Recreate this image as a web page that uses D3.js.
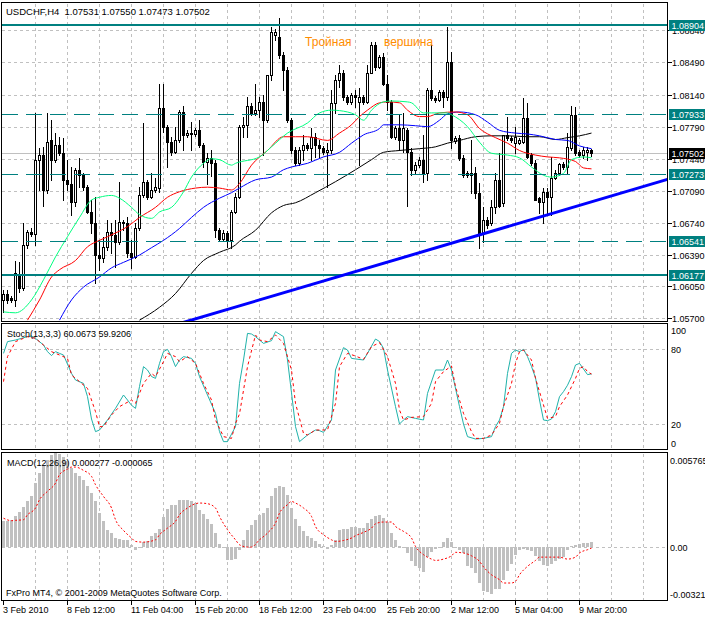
<!DOCTYPE html>
<html>
<head>
<meta charset="UTF-8">
<title>USDCHF,H4</title>
<script src="https://d3js.org/d3.v7.min.js"></script>
<style>
  body { margin: 0; background: #fff; }
  svg text { font-family: "Liberation Sans", Arial, sans-serif; font-size: 9px; fill: #000; }
  .grid { stroke: #c0c0c0; stroke-width: 1; stroke-dasharray: 3,3; shape-rendering: crispEdges; }
  .frame { fill: none; stroke: #000; stroke-width: 1; shape-rendering: crispEdges; }
  .tick { stroke: #000; stroke-width: 1; shape-rendering: crispEdges; }
  .header { white-space: pre; }
</style>
</head>
<body>
<script>

// ---- candles, H4, one per bar (bar 0 = left edge) ----
var open = [
1.0590,1.0597,1.0592,1.0590,1.0618,1.0603,1.0650,1.0664,1.0662,1.0743,
1.0748,1.0710,1.0764,1.0743,1.0759,1.0750,1.0721,1.0717,1.0697,1.0732,
1.0726,1.0713,1.0686,1.0674,1.0639,1.0636,1.0648,1.0664,1.0661,1.0653,
1.0675,1.0674,1.0641,1.0637,1.0668,1.0704,1.0719,1.0702,1.0710,1.0712,
1.0799,1.0779,1.0762,1.0751,1.0764,1.0795,1.0770,1.0772,1.0771,1.0775,
1.0759,1.0740,1.0745,1.0739,1.0666,1.0657,1.0663,1.0655,1.0686,1.0702,
1.0779,1.0781,1.0802,1.0794,1.0797,1.0806,1.0786,1.0835,1.0879,1.0877,
1.0857,1.0841,1.0786,1.0753,1.0739,1.0753,1.0759,1.0756,1.0768,1.0759,
1.0756,1.0751,1.0753,1.0805,1.0830,1.0838,1.0811,1.0806,1.0813,1.0806,
1.0811,1.0806,1.0838,1.0868,1.0844,1.0855,1.0826,1.0806,1.0768,1.0777,
1.0764,1.0775,1.0751,1.0732,1.0737,1.0743,1.0728,1.0819,1.0810,1.0808,
1.0817,1.0811,1.0849,1.0763,1.0767,1.0745,1.0728,1.0726,1.0729,1.0707,
1.0663,1.0677,1.0674,1.0691,1.0721,1.0696,1.0770,1.0767,1.0761,1.0761,
1.0762,1.0788,1.0748,1.0739,1.0701,1.0697,1.0708,1.0702,1.0723,1.0729,
1.0738,1.0735,1.0756,1.0792,1.0751,1.0748,1.0751,1.07531];

var high = [
1.0601,1.0601,1.0594,1.0633,1.0631,1.0674,1.0666,1.0668,1.0794,1.0756,
1.0757,1.0794,1.0786,1.0772,1.0768,1.0767,1.0743,1.0735,1.0734,1.0745,
1.0729,1.0715,1.0699,1.0702,1.0655,1.0659,1.0677,1.0674,1.0677,1.0719,
1.0677,1.0680,1.0655,1.0674,1.0713,1.0783,1.0721,1.0728,1.0723,1.0826,
1.0826,1.0781,1.0768,1.0779,1.0797,1.0802,1.0775,1.0784,1.0777,1.0786,
1.0761,1.0750,1.0753,1.0743,1.0668,1.0666,1.0665,1.0688,1.0707,1.0781,
1.0789,1.0811,1.0805,1.0826,1.0811,1.0813,1.0835,1.0888,1.0886,1.0897,
1.0860,1.0844,1.0788,1.0757,1.0757,1.0770,1.0761,1.0777,1.0772,1.0764,
1.0758,1.0761,1.0819,1.0835,1.0846,1.0841,1.0813,1.0816,1.0819,1.0821,
1.0813,1.0846,1.0871,1.0871,1.0857,1.0859,1.0835,1.0808,1.0780,1.0792,
1.0794,1.0777,1.0756,1.0740,1.0746,1.0770,1.0821,1.0868,1.0812,1.0819,
1.0819,1.0888,1.0860,1.0769,1.0770,1.0748,1.0731,1.0764,1.0735,1.0718,
1.0691,1.0680,1.0699,1.0728,1.0750,1.0770,1.0790,1.0769,1.0779,1.0767,
1.0810,1.0805,1.0750,1.0743,1.0702,1.0712,1.0712,1.0746,1.0732,1.0739,
1.0740,1.0772,1.0802,1.0800,1.0753,1.0757,1.0757,1.07550];

var low = [
1.0577,1.0587,1.0588,1.0583,1.0599,1.0601,1.0647,1.0660,1.0650,1.0710,
1.0693,1.0707,1.0721,1.0740,1.0748,1.0699,1.0710,1.0683,1.0693,1.0713,
1.0710,1.0685,1.0663,1.0609,1.0623,1.0631,1.0644,1.0641,1.0626,1.0651,
1.0666,1.0637,1.0625,1.0636,1.0666,1.0702,1.0700,1.0701,1.0708,1.0708,
1.0773,1.0735,1.0748,1.0750,1.0762,1.0753,1.0768,1.0753,1.0769,1.0757,
1.0735,1.0717,1.0725,1.0659,1.0655,1.0655,1.0648,1.0647,1.0685,1.0701,
1.0768,1.0768,1.0792,1.0792,1.0790,1.0748,1.0784,1.0830,1.0873,1.0854,
1.0819,1.0784,1.0750,1.0737,1.0737,1.0743,1.0753,1.0743,1.0746,1.0746,
1.0749,1.0713,1.0750,1.0794,1.0822,1.0808,1.0804,1.0804,1.0800,1.0737,
1.0804,1.0805,1.0837,1.0841,1.0843,1.0824,1.0797,1.0767,1.0765,1.0753,
1.0751,1.0693,1.0726,1.0729,1.0735,1.0719,1.0721,1.0808,1.0806,1.0807,
1.0800,1.0808,1.0756,1.0761,1.0743,1.0724,1.0724,1.0707,1.0701,1.0647,
1.0653,1.0669,1.0672,1.0685,1.0691,1.0693,1.0764,1.0762,1.0750,1.0760,
1.0761,1.0745,1.0737,1.0699,1.0685,1.0674,1.0685,1.0683,1.0722,1.0726,
1.0733,1.0728,1.0753,1.0748,1.0746,1.0745,1.0743,1.07473];

var close = [
1.0597,1.0590,1.0590,1.0619,1.0603,1.0650,1.0664,1.0662,1.0743,1.0748,
1.0710,1.0762,1.0743,1.0759,1.0750,1.0721,1.0717,1.0697,1.0732,1.0726,
1.0713,1.0686,1.0674,1.0639,1.0636,1.0648,1.0664,1.0661,1.0653,1.0675,
1.0674,1.0641,1.0637,1.0668,1.0704,1.0719,1.0702,1.0710,1.0713,1.0799,
1.0779,1.0762,1.0751,1.0764,1.0795,1.0770,1.0772,1.0771,1.0775,1.0759,
1.0740,1.0745,1.0739,1.0666,1.0657,1.0663,1.0655,1.0686,1.0702,1.0779,
1.0781,1.0802,1.0794,1.0797,1.0806,1.0786,1.0835,1.0882,1.0882,1.0857,
1.0841,1.0786,1.0753,1.0739,1.0753,1.0759,1.0756,1.0768,1.0759,1.0756,
1.0751,1.0753,1.0805,1.0830,1.0838,1.0811,1.0806,1.0813,1.0811,1.0811,
1.0806,1.0838,1.0868,1.0844,1.0855,1.0826,1.0806,1.0768,1.0777,1.0764,
1.0777,1.0751,1.0732,1.0737,1.0743,1.0728,1.0819,1.0810,1.0808,1.0817,
1.0811,1.0849,1.0764,1.0767,1.0745,1.0726,1.0726,1.0729,1.0707,1.0663,
1.0677,1.0672,1.0691,1.0721,1.0693,1.0770,1.0767,1.0764,1.0768,1.0764,
1.0788,1.0746,1.0739,1.0699,1.0697,1.0708,1.0702,1.0723,1.0729,1.0738,
1.0735,1.0757,1.0792,1.0750,1.0748,1.0753,1.0753,1.07502];

// ---- moving averages: [bar, price] ----
var maGreen = [[0,1.0577],[3,1.0576],[7,1.0590],[10,1.0612],[13,1.0637],[16,1.0659],[19,1.0680],[22,1.0699],[24,1.0702],[27,1.0704],[29,1.0701],[32,1.0691],[34,1.0683],[37,1.0679],[39,1.0686],[42,1.0691],[45,1.0708],[47,1.0724],[50,1.0739],[52,1.0744],[54,1.0743],[57,1.0737],[58,1.0739],[64,1.0746],[67,1.0757],[71,1.0772],[76,1.0783],[79,1.0794],[82,1.0797],[86,1.0795],[88,1.0792],[90,1.0786],[92,1.0797],[95,1.0806],[97,1.0807],[101,1.0806],[102,1.0805],[105,1.0794],[107,1.0794],[111,1.0794],[112,1.0792],[116,1.0779],[119,1.0762],[122,1.0750],[126,1.0748],[129,1.0745],[132,1.0735],[135,1.0726],[137,1.0724],[140,1.0728],[142,1.0743],[145,1.0746],[147,1.0745]];
var maRed = [[6,1.0568],[9,1.0590],[12,1.0615],[14,1.0623],[18,1.0633],[21,1.0648],[24,1.0655],[28,1.0663],[31,1.0670],[34,1.0680],[38,1.0691],[41,1.0702],[44,1.0708],[48,1.0712],[51,1.0713],[54,1.0712],[57,1.0710],[59,1.0717],[62,1.0737],[66,1.0753],[70,1.0768],[73,1.0768],[76,1.0768],[81,1.0764],[84,1.0772],[87,1.0781],[89,1.0790],[91,1.0797],[94,1.0805],[96,1.0806],[99,1.0805],[101,1.0797],[104,1.0790],[106,1.0790],[109,1.0794],[113,1.0795],[116,1.0792],[119,1.0777],[123,1.0767],[126,1.0761],[129,1.0753],[133,1.0748],[136,1.0746],[139,1.0745],[143,1.0741],[145,1.0734],[147,1.0733]];
var maBlue = [[14,1.0568],[17,1.0590],[20,1.0604],[24,1.0615],[27,1.0625],[30,1.0631],[34,1.0639],[37,1.0647],[40,1.0655],[44,1.0668],[47,1.0680],[50,1.0691],[54,1.0701],[57,1.0707],[59,1.0712],[63,1.0721],[67,1.0724],[70,1.0732],[72,1.0735],[76,1.0739],[80,1.0746],[84,1.0751],[87,1.0761],[90,1.0770],[94,1.0777],[95,1.0781],[99,1.0781],[103,1.0780],[106,1.0779],[109,1.0786],[111,1.0793],[114,1.0795],[118,1.0792],[121,1.0784],[124,1.0775],[128,1.0772],[131,1.0771],[134,1.0769],[138,1.0765],[141,1.0764],[144,1.0758],[147,1.0755]];
var maBlack = [[34,1.0568],[39,1.0582],[43,1.0597],[47,1.0619],[50,1.0633],[54,1.0642],[58,1.0650],[59,1.0654],[63,1.0666],[67,1.0685],[70,1.0693],[73,1.0696],[78,1.0707],[83,1.0719],[88,1.0732],[92,1.0743],[95,1.0751],[99,1.0753],[104,1.0755],[108,1.0757],[111,1.0761],[114,1.0764],[118,1.0768],[122,1.0769],[126,1.0769],[131,1.0768],[134,1.0768],[138,1.0765],[141,1.0767],[144,1.0769],[147,1.0772]];

// horizontal levels and trend line
var solidLevels = [1.08904, 1.06177];
var dashedLevels = [1.07933, 1.07273, 1.06541];
var lastPrice = 1.07502;
var trendAnchors = [[59, 1.05836], [147, 1.0697]];
var annWords = ['Тройная', 'вершина'];
var annBars = [75.4, 95.1];
var annPrice = 1.0867;

// axis ticks
var priceTicks = [1.05700, 1.06050, 1.06390, 1.06740, 1.07090, 1.07440, 1.07790, 1.08140, 1.08490, 1.08840];
var timeLabels = ['3 Feb 2010', '8 Feb 12:00', '11 Feb 04:00', '15 Feb 20:00', '18 Feb 12:00',
                  '23 Feb 04:00', '25 Feb 20:00', '2 Mar 12:00', '5 Mar 04:00', '9 Mar 20:00'];
var timeLabelBars = [0, 16, 32, 48, 64, 80, 96, 112, 128, 144];

// ---- Stochastic(13,3,3): [bar, value] ----
var stochMain = [[0,76.5],[1,85.9],[3,87.2],[6,89.9],[7,90.4],[8,88.5],[10,83.2],[11,77.9],[12,74.7],[13,77.9],[14,76.5],[15,75.2],[17,60.5],[18,55.2],[20,52.5],[21,41.9],[22,24],[23,13.9],[24,15.2],[26,23.2],[28,32.5],[30,43.2],[31,39.2],[32,35],[33,32.5],[34,50],[35,65.9],[36,63.2],[37,58],[38,56.5],[39,68.5],[40,77.9],[41,79.7],[42,73.9],[43,65.9],[44,71.2],[45,73.9],[47,72.5],[48,68.5],[49,57.9],[51,43.2],[53,28.5],[54,13.9],[55,5.9],[56,5.9],[58,17.9],[59,52.5],[60,71.2],[61,92.5],[62,92],[63,89.9],[65,84.5],[67,86.7],[68,93.9],[70,89.9],[71,71.2],[72,45],[73,17.9],[74,5.9],[76,11.2],[78,15.2],[79,14.7],[80,13.3],[82,23.2],[83,63.2],[85,81.1],[86,79.2],[87,72.5],[90,71.2],[91,76.5],[93,88],[94,86],[95,80.5],[96,63.2],[98,33.9],[99,20],[100,23.2],[101,25.9],[103,24.5],[105,23.2],[106,44.5],[108,63.2],[110,63.2],[111,71.2],[112,63.2],[114,33.9],[115,20],[116,9.9],[118,8],[120,8.5],[122,9.9],[123,17.9],[124,23.2],[125,33.9],[126,60.5],[127,76.5],[128,79.2],[129,77.9],[130,79.7],[131,73.9],[132,66],[133,57],[134,39.2],[135,23.2],[136,22.7],[137,24],[138,29.9],[139,41.9],[140,45.9],[141,51],[142,57.9],[143,67.2],[144,68.5],[145,64],[146,59.5],[147,60.0673]];
var stochSignal = [[0,53.9],[1,73.9],[3,85.9],[6,89.9],[8,88.5],[10,83.2],[12,77.9],[14,75.2],[16,72.5],[17,59.2],[19,53.9],[21,48.5],[23,29.9],[24,17.9],[25,17.9],[27,27.2],[29,33.9],[32,39.2],[33,36.5],[35,52.5],[37,60.5],[38,57.9],[40,69.9],[41,76.5],[43,73.9],[44,69.9],[46,73.9],[48,68.5],[50,52.5],[52,39.2],[53,23.2],[55,9.9],[57,8.5],[58,20.5],[59,28],[61,65.9],[63,91.2],[64,87.2],[66,85.9],[68,91.2],[70,84.5],[72,63.2],[73,36.5],[75,12.5],[76,11.2],[78,15.2],[81,15.2],[83,36.5],[84,65.9],[86,76.5],[88,74.4],[90,71.7],[92,81.9],[94,85.1],[96,73.9],[98,52.5],[99,31.2],[100,23.2],[102,25.3],[105,25.9],[107,36.5],[108,53.9],[110,61.9],[112,66.4],[113,49.9],[115,28.5],[117,13.9],[118,8.5],[120,8.5],[122,11.2],[124,20.5],[125,33.9],[127,52.5],[128,68.5],[129,77.9],[130,79.2],[132,71.2],[133,56.5],[135,35.2],[136,24.5],[138,25.9],[139,33.9],[141,43.2],[143,56.5],[144,64.5],[145,65.9],[146,61.9],[147,59.9206]];
var stochLabels = [100, 80, 20, 0];
var stochGrid = [80, 20];

// ---- MACD(12,26,9): histogram per bar, signal as [bar, value] ----
var macdHist = [
0.00156,0.00160,0.00166,0.00186,0.00210,0.00241,0.00277,0.00307,0.00388,0.00449,
0.00499,0.00530,0.00560,0.005765,0.00565,0.00546,0.00520,0.00479,0.00449,0.00429,
0.00408,0.00368,0.00327,0.00277,0.00206,0.00156,0.00105,0.00085,0.00053,0.00049,
0.00044,0.00044,0.00014,-0.00016,-0.00006,0.00028,0.00038,0.00065,0.00085,0.00109,
0.00182,0.00230,0.00257,0.00257,0.00287,0.00287,0.00287,0.00277,0.00267,0.00226,
0.00202,0.00170,0.00140,0.00085,0.00020,-0.00006,-0.00077,-0.00081,-0.00073,-0.00016,
0.00040,0.00101,0.00135,0.00166,0.00196,0.00206,0.00237,0.00307,0.00358,0.00368,
0.00362,0.00317,0.00237,0.00170,0.00129,0.00099,0.00065,0.00055,0.00034,0.00020,
0.00004,-0.00012,0.00014,0.00044,0.00101,0.00109,0.00109,0.00121,0.00121,0.00115,
0.00115,0.00146,0.00172,0.00186,0.00196,0.00176,0.00152,0.00085,0.00044,0.00004,
-0.00006,-0.00036,-0.00087,-0.00117,-0.00127,-0.00152,-0.00061,-0.00032,-0.00012,-0.00006,
0.00028,0.00055,0.00028,-0.00006,-0.00020,-0.00036,-0.00113,-0.00127,-0.00158,-0.00218,
-0.00269,-0.00275,-0.00283,-0.00255,-0.00255,-0.00198,-0.00148,-0.00101,-0.00046,-0.00016,
-0.00012,-0.00016,-0.00026,-0.00057,-0.00087,-0.00107,-0.00113,-0.00101,-0.00087,-0.00073,
-0.00061,-0.00016,0.00004,0.00014,0.00020,0.00024,0.00024,0.000277];
var macdSignal = [[0,0.00175],[2,0.00160],[3,0.00162],[5,0.00166],[6,0.00196],[8,0.00237],[9,0.00287],[11,0.00338],[13,0.00388],[14,0.00439],[16,0.00473],[17,0.00485],[18,0.00485],[20,0.00465],[22,0.00429],[23,0.00378],[25,0.00307],[27,0.00237],[28,0.00166],[30,0.00101],[32,0.00055],[33,0.00034],[35,0.00030],[38,0.00044],[39,0.00075],[41,0.00115],[43,0.00156],[44,0.00196],[46,0.00237],[48,0.00263],[49,0.00267],[51,0.00263],[53,0.00237],[54,0.00186],[56,0.00105],[58,0.00044],[59,0.00014],[61,0],[62,0],[64,0.00044],[66,0.00085],[68,0.00146],[69,0.00206],[71,0.00257],[72,0.00277],[73,0.00267],[75,0.00237],[77,0.00186],[78,0.00125],[80,0.00075],[82,0.00044],[83,0.00034],[85,0.00040],[87,0.00055],[88,0.00069],[90,0.00089],[92,0.00115],[93,0.00141],[95,0.00152],[97,0.00152],[98,0.00125],[100,0.00095],[102,0.00055],[103,0.00004],[105,-0.00046],[107,-0.00073],[108,-0.00081],[110,-0.00073],[112,-0.00053],[113,-0.00032],[115,-0.00036],[117,-0.00053],[119,-0.00087],[120,-0.00120],[122,-0.00168],[124,-0.00198],[125,-0.00218],[127,-0.00218],[128,-0.00208],[129,-0.00168],[131,-0.00117],[133,-0.00081],[134,-0.00061],[136,-0.00061],[138,-0.00061],[139,-0.00061],[141,-0.00073],[143,-0.00061],[144,-0.00036],[146,-0.00016],[147,-0.000065]];
var macdLabelValues = [0.005765, 0, -0.00321];
var macdLabelTexts = ['0.005765', '0.00', '-0.00321'];

// ---- layout ----
var W = 705, H = 617;
var left = 1.5, right = 667.5;
var mainP = {top: 2.5, bottom: 321.5};
var stochP = {top: 323.5, bottom: 449.5};
var macdP = {top: 452.5, bottom: 600.5};
var teal = '#008080';

var svg = d3.select('body').append('svg')
    .attr('width', W)
    .attr('height', H)
    .style('display', 'block');

var x = d3.scaleLinear().domain([0, 1]).range([3.5, 7.5]);
var y = d3.scaleLinear().domain([1.057, 1.08904]).range([318.3, 24.5]);
var ys = d3.scaleLinear().domain([0, 100]).range([449, 324]);
var ym = d3.scaleLinear().domain([-0.00321, 0.005765]).range([600, 452]);

function py(p) { return Math.round(y(p)); }
var lastBarX = Math.floor((right - 3.5) / 4);

var defs = svg.append('defs');
[['clipMain', mainP], ['clipStoch', stochP], ['clipMacd', macdP]].forEach(function(c) {
  defs.append('clipPath').attr('id', c[0])
    .append('rect')
    .attr('x', left + 0.5).attr('y', c[1].top + 0.5)
    .attr('width', right - left - 1).attr('height', c[1].bottom - c[1].top - 1);
});

// vertical grid, every 8 bars, in all panels
var vgrid = d3.range(8, lastBarX + 1, 8);
[mainP, stochP, macdP].forEach(function(p) {
  svg.append('g').selectAll('line').data(vgrid).enter().append('line')
    .attr('class', 'grid')
    .attr('x1', function(d) { return x(d); }).attr('x2', function(d) { return x(d); })
    .attr('y1', p.top + 1).attr('y2', p.bottom - 1);
});

// ===== main panel =====
var gMain = svg.append('g').attr('clip-path', 'url(#clipMain)');

gMain.selectAll('.hgrid').data(priceTicks).enter().append('line')
  .attr('class', 'grid')
  .attr('x1', left).attr('x2', right)
  .attr('y1', function(d) { return py(d) + 0.5; })
  .attr('y2', function(d) { return py(d) + 0.5; });

// bid line
gMain.append('line')
  .attr('x1', left).attr('x2', right)
  .attr('y1', py(lastPrice) + 0.5).attr('y2', py(lastPrice) + 0.5)
  .attr('stroke', '#c0c0c0').attr('shape-rendering', 'crispEdges');

// candles
var candles = open.map(function(o, i) {
  return {i: i, o: o, h: high[i], l: low[i], c: close[i]};
});

var cg = gMain.append('g').attr('shape-rendering', 'crispEdges');
var bar = cg.selectAll('g').data(candles).enter().append('g');

bar.append('rect')
  .attr('x', function(d) { return x(d.i) - 0.5; })
  .attr('width', 1)
  .attr('y', function(d) { return py(d.h); })
  .attr('height', function(d) { return py(d.l) - py(d.h) + 1; })
  .attr('fill', '#000');

bar.append('rect')
  .attr('x', function(d) { return x(d.i) - 1.5; })
  .attr('width', 3)
  .attr('y', function(d) { return Math.min(py(d.o), py(d.c)); })
  .attr('height', function(d) { return Math.abs(py(d.o) - py(d.c)) + 1; })
  .attr('fill', '#000');

bar.filter(function(d) { return d.c > d.o && py(d.o) - py(d.c) > 1; })
  .append('rect')
  .attr('x', function(d) { return x(d.i) - 0.5; })
  .attr('width', 1)
  .attr('y', function(d) { return py(d.c) + 1; })
  .attr('height', function(d) { return py(d.o) - py(d.c) - 1; })
  .attr('fill', '#fff');

// moving averages
var maLine = d3.line()
  .x(function(d) { return x(d[0]); })
  .y(function(d) { return y(d[1]); })
  .curve(d3.curveMonotoneX);

[[maBlack, '#000000'], [maBlue, '#0000ff'], [maRed, '#ff0000'], [maGreen, '#00ff7f']].forEach(function(m) {
  gMain.append('path')
    .attr('d', maLine(m[0]))
    .attr('fill', 'none')
    .attr('stroke', m[1])
    .attr('stroke-width', 1);
});

// levels
gMain.selectAll('.lvlSolid').data(solidLevels).enter().append('rect')
  .attr('x', left).attr('width', right - left)
  .attr('y', function(d) { return py(d) - 1; })
  .attr('height', 2)
  .attr('fill', teal)
  .attr('shape-rendering', 'crispEdges');

gMain.selectAll('.lvlDash').data(dashedLevels).enter().append('line')
  .attr('x1', left).attr('x2', right)
  .attr('y1', function(d) { return py(d) + 0.5; })
  .attr('y2', function(d) { return py(d) + 0.5; })
  .attr('stroke', teal)
  .attr('stroke-dasharray', '16,8')
  .attr('shape-rendering', 'crispEdges');

// trend line (ray to the right)
var slope = (trendAnchors[1][1] - trendAnchors[0][1]) / (trendAnchors[1][0] - trendAnchors[0][0]);
var tFrom = 30, tTo = (right - 3.5) / 4;
gMain.append('line')
  .attr('x1', x(tFrom)).attr('y1', y(trendAnchors[0][1] + slope * (tFrom - trendAnchors[0][0])))
  .attr('x2', x(tTo)).attr('y2', y(trendAnchors[0][1] + slope * (tTo - trendAnchors[0][0])))
  .attr('stroke', '#0000ff')
  .attr('stroke-width', 3);

// text annotation
annWords.forEach(function(w, k) {
  gMain.append('text')
    .attr('x', x(annBars[k]))
    .attr('y', y(annPrice))
    .style('font-size', '12px')
    .style('fill', '#ff8c00')
    .text(w);
});

svg.append('text').attr('class', 'header').attr('x', 6).attr('y', 15)
  .style('font-size', '9.5px')
  .text('USDCHF,H4  ' + [open[147], high[147], low[147], close[147]].map(function(v) { return v.toFixed(5); }).join(' '));

// price scale
var axis = svg.append('g');
axis.selectAll('.pt').data(priceTicks).enter().append('line')
  .attr('class', 'tick')
  .attr('x1', right).attr('x2', right + 4)
  .attr('y1', function(d) { return py(d) + 0.5; })
  .attr('y2', function(d) { return py(d) + 0.5; });
axis.selectAll('.pl').data(priceTicks).enter().append('text')
  .attr('x', 672)
  .attr('y', function(d) { return py(d) + 3.5; })
  .text(function(d) { return d.toFixed(5); });

function priceTag(p, bg) {
  axis.append('rect')
    .attr('x', 669).attr('width', 36)
    .attr('y', py(p) - 5).attr('height', 11)
    .attr('fill', bg);
  axis.append('text')
    .attr('x', 671.5).attr('y', py(p) + 3.5)
    .style('fill', '#fff')
    .text(p.toFixed(5));
}
solidLevels.concat(dashedLevels).forEach(function(p) { priceTag(p, teal); });
priceTag(lastPrice, '#000');

// ===== stochastic =====
var gSt = svg.append('g').attr('clip-path', 'url(#clipStoch)');
gSt.selectAll('line').data(stochGrid).enter().append('line')
  .attr('class', 'grid')
  .attr('x1', left).attr('x2', right)
  .attr('y1', function(d) { return Math.round(ys(d)) + 0.5; })
  .attr('y2', function(d) { return Math.round(ys(d)) + 0.5; });

var stLine = d3.line()
  .x(function(d) { return x(d[0]); })
  .y(function(d) { return ys(d[1]); });

gSt.append('path').attr('d', stLine(stochMain))
  .attr('fill', 'none').attr('stroke', '#20b2aa').attr('stroke-width', 1);
gSt.append('path').attr('d', stLine(stochSignal))
  .attr('fill', 'none').attr('stroke', '#ff0000').attr('stroke-width', 1)
  .attr('stroke-dasharray', '3,3');

svg.append('text').attr('x', 7).attr('y', 337)
  .text('Stoch(13,3,3) ' + stochMain[stochMain.length - 1][1].toFixed(4) + ' ' + stochSignal[stochSignal.length - 1][1].toFixed(4));

svg.selectAll('.sl').data(stochLabels).enter().append('text')
  .attr('x', 671)
  .attr('y', function(d) { return Math.max(stochP.top + 6.5, Math.min(stochP.bottom - 6.5, ys(d))) + 3.5; })
  .text(function(d) { return d; });

// ===== MACD =====
var gM = svg.append('g').attr('clip-path', 'url(#clipMacd)');
var zeroY = Math.round(ym(0));
gM.append('line').attr('class', 'grid')
  .attr('x1', left).attr('x2', right)
  .attr('y1', zeroY + 0.5).attr('y2', zeroY + 0.5);

gM.append('g').attr('shape-rendering', 'crispEdges')
  .selectAll('rect').data(macdHist).enter().append('rect')
  .attr('x', function(d, i) { return x(i) - 1.5; })
  .attr('width', 3)
  .attr('y', function(d) { return d >= 0 ? Math.round(ym(d)) : zeroY; })
  .attr('height', function(d) { return Math.max(1, Math.abs(Math.round(ym(d)) - zeroY)); })
  .attr('fill', '#c0c0c0');

var mLine = d3.line()
  .x(function(d) { return x(d[0]); })
  .y(function(d) { return ym(d[1]); })
  .curve(d3.curveMonotoneX);
gM.append('path').attr('d', mLine(macdSignal))
  .attr('fill', 'none').attr('stroke', '#ff0000').attr('stroke-width', 1)
  .attr('stroke-dasharray', '2,2');

svg.append('text').attr('x', 7).attr('y', 466)
  .text('MACD(12,26,9) ' + macdHist[macdHist.length - 1].toFixed(6) + ' ' + macdSignal[macdSignal.length - 1][1].toFixed(6));

svg.selectAll('.ml').data(macdLabelValues).enter().append('text')
  .attr('x', 670)
  .attr('y', function(d) { return Math.max(macdP.top + 8, Math.min(macdP.bottom - 6.5, ym(d))) + 3.5; })
  .text(function(d, i) { return macdLabelTexts[i]; });

svg.append('text').attr('x', 6).attr('y', 596)
  .text('FxPro MT4, \u00a9 2001-2009 MetaQuotes Software Corp.');

// ===== frames and time axis =====
[mainP, stochP, macdP].forEach(function(p) {
  svg.append('rect').attr('class', 'frame')
    .attr('x', left).attr('y', p.top)
    .attr('width', right - left).attr('height', p.bottom - p.top);
});

svg.selectAll('.tt').data(timeLabelBars).enter().append('line')
  .attr('class', 'tick')
  .attr('x1', function(d) { return x(d); }).attr('x2', function(d) { return x(d); })
  .attr('y1', macdP.bottom).attr('y2', macdP.bottom + 4);

svg.selectAll('.tl').data(timeLabelBars).enter().append('text')
  .attr('x', function(d) { return x(d) - 0.5; })
  .attr('y', 613)
  .text(function(d, i) { return timeLabels[i]; });

</script>
</body>
</html>
